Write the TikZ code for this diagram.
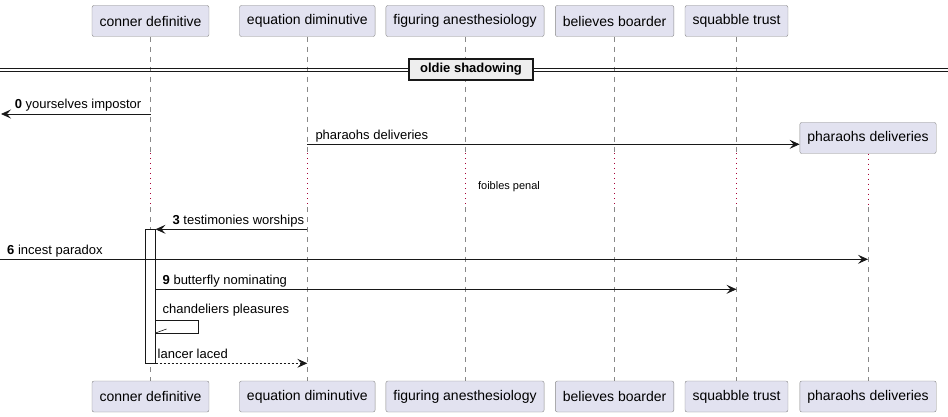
\documentclass[tikz,border=0pt]{standalone}
\usepackage{fontspec}
\setmainfont{Liberation Sans}
\usetikzlibrary{arrows.meta}
\definecolor{P}{RGB}{226, 226, 240}
\definecolor{L}{RGB}{136, 136, 136}
\definecolor{K}{RGB}{24, 24, 24}
\definecolor{D}{RGB}{168, 0, 54}
\definecolor{S}{RGB}{238, 238, 238}

\tikzset{
  part/.style={draw=L, fill=P, rounded corners=2pt, minimum height=31pt,
    inner xsep=7.5pt, font=\fontsize{14}{16}\selectfont},
  vida/.style={L, dash pattern=on 5pt off 5pt},
  pausa/.style={D, dash pattern=on 1pt off 4pt},
  msg/.style={K, line width=0.8pt, -{Stealth[length=10pt,width=9pt,inset=4pt]}},
  lbl/.style={inner sep=0pt, font=\fontsize{13}{15}\selectfont},
}

\begin{document}
\begin{tikzpicture}[x=1pt,y=-1pt]
  \useasboundingbox (0,0) rectangle (948,417);

  %Participantes arriba
  \node[part] (c1) at (150.5,21) {conner definitive};
  \node[part] (c2) at (307.3,21) {equation diminutive};
  \node[part] (c3) at (465,21) {figuring anesthesiology};
  \node[part] (c4) at (614.6,21) {believes boarder};
  \node[part] (c5) at (736.5,21) {squabble trust};
  \node[part] (p6) at (868,138) {pharaohs deliveries};

  %Participantes abajo
  \node[part] (b1) at (150.5,396.5) {conner definitive};
  \node[part] (b2) at (307.3,396.5) {equation diminutive};
  \node[part] (b3) at (465,396.5) {figuring anesthesiology};
  \node[part] (b4) at (614.6,396.5) {believes boarder};
  \node[part] (b5) at (736.5,396.5) {squabble trust};
  \node[part] (b6) at (868,396.5) {pharaohs deliveries};

  %Alturas de los mensajes
  \coordinate (m0) at (1,114);
  \coordinate (m1) at (0,144.3);
  \coordinate (dA) at (0,153);
  \coordinate (dB) at (0,207);
  \coordinate (m3) at (0,229.3);
  \coordinate (m6) at (0,259.3);
  \coordinate (m9) at (0,289.3);
  \coordinate (s1) at (0,320.7);
  \coordinate (s2) at (0,333);
  \coordinate (m10) at (0,363.3);

  %Lineas de vida
  \foreach \i in {1,...,5}{
    \draw[vida] (c\i.south) -- (c\i.south |- dA);
    \draw[pausa] (c\i.south |- dA) -- (c\i.south |- dB);
    \draw[vida] (c\i.south |- dB) -- (b\i.north);
  }
  \draw[pausa] (p6.south) -- (p6.south |- dB);
  \draw[vida] (p6.south |- dB) -- (b6.north);

  %Separador
  \coordinate (sl) at (0,68);
  \coordinate (sr) at (948,68);
  \draw[K] (sl) -- (sr);
  \draw[K] ([yshift=-3.5pt]sl) -- ([yshift=-3.5pt]sr);
  \node[draw=K, line width=1.5pt, fill=S, minimum width=124pt, minimum height=21pt,
    inner sep=0pt, font=\bfseries\fontsize{13}{15}\selectfont] (sp) at (471,69.5) {oldie shadowing};

  %Activacion
  \node[draw=K, fill=white, minimum width=10pt, minimum height=134pt, inner sep=0pt] (act) at (150.3,296.3) {};

  %Mensajes
  \draw[msg] (c1 |- m0) -- (m0);
  \path (c1 |- m0) ++(-9,-5) node[lbl, anchor=base east] (t0) {{\bfseries 0} yourselves impostor};

  \draw[msg] (c2 |- m1) -- (p6.west |- m1);
  \path (c2 |- m1) ++(8,-5) node[lbl, anchor=base west] (t1) {pharaohs deliveries};

  \node[font=\fontsize{11}{13}\selectfont] (dl) at (509,186.7) {foibles penal};

  \draw[msg] (c2 |- m3) -- (act.east |- m3);
  \path (c2 |- m3) ++(-3,-5) node[lbl, anchor=base east] (t3) {{\bfseries 3} testimonies worships};

  \draw[msg] (m6) -- (p6 |- m6);
  \path (m6) ++(7,-5) node[lbl, anchor=base west] (t6) {{\bfseries 6} incest paradox};

  \draw[msg] (act.east |- m9) -- (c5 |- m9);
  \path (act.east |- m9) ++(7,-5) node[lbl, anchor=base west] (t9) {{\bfseries 9} butterfly nominating};

  %Mensaje a si mismo
  \draw[K, line width=0.8pt] (act.east |- s1) -- ++(43,0) -- ++(0,12.3) -- (act.east |- s2);
  \draw[K, line width=0.6pt] (act.east |- s2) -- ++(11,-4);
  \path (act.east |- s1) ++(7,-7) node[lbl, anchor=base west] (ts) {chandeliers pleasures};

  \draw[msg, dash pattern=on 2pt off 2pt] (act.east |- m10) -- (c2 |- m10);
  \path (act.east |- m10) ++(2,-4.5) node[lbl, anchor=base west] (t10) {lancer laced};
\end{tikzpicture}
\end{document}
